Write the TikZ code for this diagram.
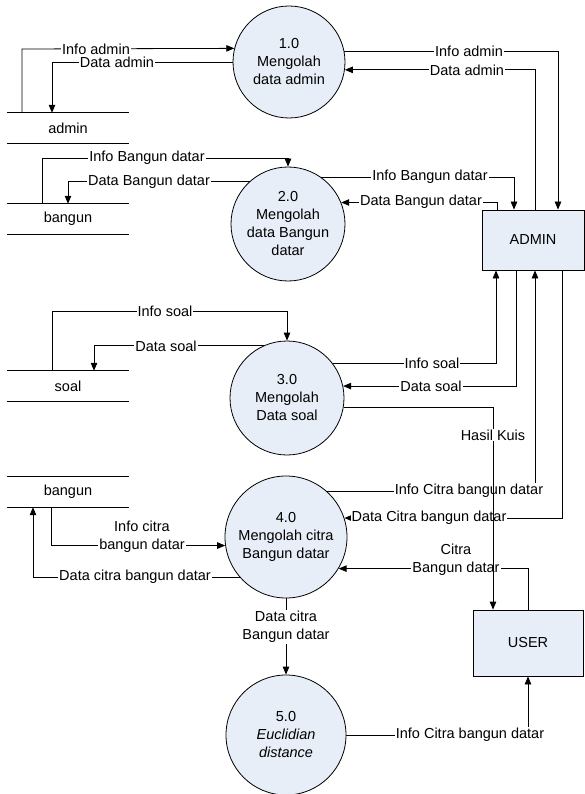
\documentclass[tikz,border=0pt]{standalone}
\usepackage{fontspec}
\setmainfont{Liberation Sans}
\usetikzlibrary{arrows.meta}
\definecolor{procfill}{RGB}{232,238,247}
\begin{document}
\begin{tikzpicture}[x=1pt,y=-1pt,
  every node/.style={font=\fontsize{14.5}{18}\selectfont},
  proc/.style={circle,draw=black,line width=0.8pt,fill=procfill,align=center,inner sep=0pt},
  entity/.style={rectangle,draw=black,line width=0.8pt,fill=procfill,align=center},
  store/.style={rectangle,minimum width=122pt,minimum height=30pt,inner sep=0pt},
  flow/.style={draw=black,line width=0.8pt,-{Triangle[length=8pt,width=6.5pt]}},
  plain/.style={draw=black,line width=0.8pt},
  lbl/.style={fill=white,inner sep=1pt,align=center}]
\useasboundingbox (0,0) rectangle (585,794);

% processes
\node[proc,minimum size=112pt] (p1) at (289,62) {1.0\\Mengolah\\data admin};
\node[proc,minimum size=114pt] (p2) at (288,224) {2.0\\Mengolah\\data Bangun\\datar};
\node[proc,minimum size=114pt] (p3) at (287,398) {3.0\\Mengolah\\Data soal};
\node[proc,minimum size=122pt] (p4) at (286,537) {4.0\\Mengolah citra\\Bangun datar};
\node[proc,minimum size=120pt] (p5) at (286,735) {5.0\\\textit{Euclidian}\\\textit{distance}};

% entities
\node[entity,minimum width=102pt,minimum height=60pt] (adm) at (533,240) {ADMIN};
\node[entity,minimum width=110pt,minimum height=66pt] (usr) at (528,643) {USER};

% data stores
\node[store] (sA) at (68,128) {admin};
\node[store] (sB1) at (68,219) {bangun};
\node[store] (sS) at (68,386) {soal};
\node[store] (sB2) at (68,492) {bangun};
\foreach \s in {sA,sB1,sS,sB2}{
  \draw[plain] (\s.north west) -- (\s.north east);
  \draw[plain] (\s.south west) -- (\s.south east);
}

% flows: admin store <-> process 1
\draw[flow] (22,0 |- sA.north) -- (22,49) -- (p1.166.6);
\draw[flow] (p1.west) -| (52,0 |- sA.north);
\node[lbl] (l1) at (96,49) {Info admin};
\node[lbl] (l2) at (117,62) {Data admin};

% process 1 <-> ADMIN
\draw[flow] (p1.11.3) -| (558,0 |- adm.north);
\draw[flow] (535,0 |- adm.north) |- (p1.-8.2);
\node[lbl] (l3) at (469,51) {Info admin};
\node[lbl] (l4) at (467,70) {Data admin};

% bangun store <-> process 2
\draw[flow] (42,0 |- sB1.north) -- (42,158) -| (p2.north);
\draw[flow] (p2.132.5) -| (68,0 |- sB1.north);
\node[lbl] (l5) at (147,158) {Info Bangun datar};
\node[lbl] (l6) at (149,182) {Data Bangun datar};

% process 2 <-> ADMIN
\draw[flow] (p2.55.5) -| (514,0 |- adm.north);
\draw[flow] (497,0 |- adm.north) |- (p2.22.7);
\node[lbl] (l7) at (430,177) {Info Bangun datar};
\node[lbl] (l8) at (421,202) {Data Bangun datar};

% soal store <-> process 3
\draw[flow] (52,0 |- sS.north) -- (52,311) -| (p3.north);
\draw[flow] (p3.114.2) -| (94,0 |- sS.north);
\node[lbl] (l9) at (165,311) {Info soal};
\node[lbl] (l10) at (166,346) {Data soal};

% process 3 <-> ADMIN
\draw[flow] (p3.37.9) -| (496,0 |- adm.south);
\draw[flow] (516,0 |- adm.south) |- (p3.12.2);
\node[lbl] (l11) at (432,363) {Info soal};
\node[lbl] (l12) at (431,386) {Data soal};

% process 4 <-> ADMIN
\draw[flow] (p4.48.9) -| (535,0 |- adm.south);
\draw[flow] (562,0 |- adm.south) |- (p4.18.1);
\node[lbl] (l14) at (469,491) {Info Citra bangun datar};
\node[lbl] (l15) at (429,518) {Data Citra bangun datar};

% USER -> process 4
\draw[flow] (528,0 |- usr.north) |- (p4.-31.6);
\node[lbl] (l16) at (456,559.5) {Citra\\Bangun datar};

% bangun store <-> process 4
\draw[flow] (51,0 |- sB2.south) |- (p4.188.5);
\draw[flow] (p4.221) -| (33,0 |- sB2.south);
\node[lbl] (l17) at (142,536.5) {Info citra\\bangun datar};
\node[lbl] (l18) at (135,577) {Data citra bangun datar};

% process 4 -> process 5
\draw[flow] (p4.south) -- (p5.north);
\node[lbl] (l19) at (286,627) {Data citra\\Bangun datar};

% process 5 -> USER
\draw[flow] (p5.east) -| (usr.south);
\node[lbl] (l20) at (470,735) {Info Citra bangun datar};

% process 3 -> USER (Hasil Kuis), drawn over other labels
\draw[flow] (p3.-9.1) -| (493,0 |- usr.north);
\node[lbl] (l13) at (493,435) {Hasil Kuis};
\end{tikzpicture}
\end{document}
